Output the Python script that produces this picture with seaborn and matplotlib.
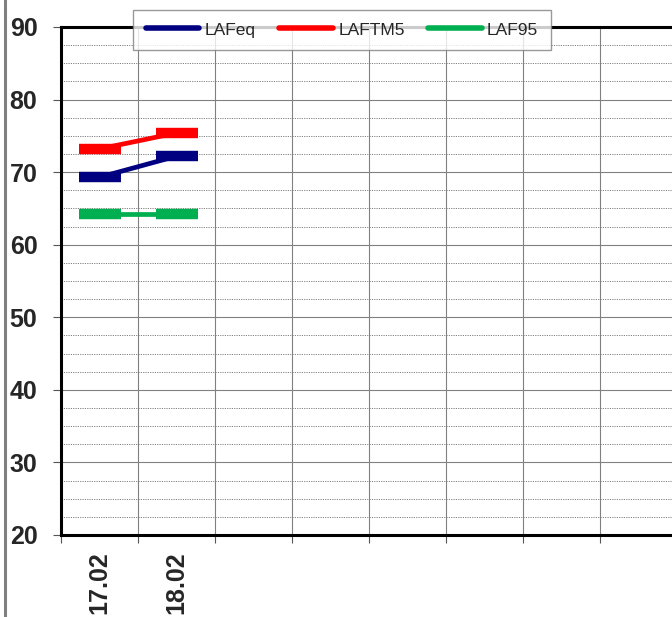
import numpy as np
import matplotlib
matplotlib.use("Agg")
import matplotlib.pyplot as plt
from matplotlib.lines import Line2D
from matplotlib.ticker import MultipleLocator, FixedLocator
import seaborn as sns

# data
dates = ["17.02", "18.02"]
laf_eq = [69.3, 72.2]
laf_tm5 = [73.2, 75.4]
laf_95 = [64.3, 64.3]
series_names = ["LAFeq", "LAFTM5", "LAF95"]
series_colors = ["#000080", "#FF0000", "#00B050"]
n_slots = 9

sns.set_style("white")
plt.rcParams["font.family"] = ["Liberation Sans", "DejaVu Sans"]

fig = plt.figure(figsize=(6.72, 6.17), dpi=100)
ax = fig.add_axes([61 / 672, 1 - 535 / 617, n_slots * 77 / 672, 508 / 617])

x_pos = np.arange(len(dates)) + 0.5
for vals, col in zip([laf_eq, laf_tm5, laf_95], series_colors):
    sns.lineplot(x=x_pos, y=vals, ax=ax, color=col, linewidth=3.4,
                 marker="_", markersize=30, markeredgewidth=7.5,
                 markeredgecolor=col, zorder=3)

ax.set_xlim(0, n_slots)
ax.set_ylim(20, 90)

ax.yaxis.set_major_locator(MultipleLocator(10))
ax.yaxis.set_minor_locator(MultipleLocator(2.5))
ax.xaxis.set_major_locator(FixedLocator(np.arange(0, n_slots + 1)))
ax.xaxis.set_minor_locator(FixedLocator(x_pos))
ax.set_xticklabels([], minor=False)
ax.set_xticklabels(dates, minor=True, rotation=90, fontsize=18,
                   fontweight="bold", va="top", ha="center")

ax.tick_params(axis="y", which="major", direction="out", length=6, width=0.8,
               color="#555555", left=True, pad=11, labelsize=18)
for lab in ax.get_yticklabels():
    lab.set_fontweight("bold")
ax.tick_params(axis="y", which="minor", length=0)
ax.tick_params(axis="x", which="major", direction="out", length=6, width=0.8,
               color="#555555", bottom=True)
ax.tick_params(axis="x", which="minor", length=0, pad=12)

ax.grid(which="major", axis="both", color="#808080", linewidth=0.8, linestyle="-")
ax.grid(which="minor", axis="y", color="#808080", linewidth=0.7,
        linestyle=(0, (1.2, 1.2)))
ax.set_axisbelow(True)

for side in ["left", "bottom", "top"]:
    ax.spines[side].set_color("black")
    ax.spines[side].set_linewidth(2.2)
ax.spines["right"].set_visible(False)

handles = [Line2D([0], [0], color=c, linewidth=4, solid_capstyle="round")
           for c in series_colors]
leg = fig.legend(handles, series_names, loc="center", ncol=3,
                 bbox_to_anchor=(342 / 672, 1 - 30 / 617), fontsize=12.5,
                 frameon=True, fancybox=False, handlelength=3.1,
                 handletextpad=0.3, columnspacing=1.35, borderpad=0.7)
leg.get_frame().set_edgecolor("#808080")
leg.get_frame().set_linewidth(1.0)
leg.set_zorder(10)

# gray border on the left edge of the chart area
fig.add_artist(Line2D([5 / 672, 5 / 672], [0, 1], color="#808080",
                      linewidth=2.2, transform=fig.transFigure))

fig.savefig("out.png", dpi=100)
